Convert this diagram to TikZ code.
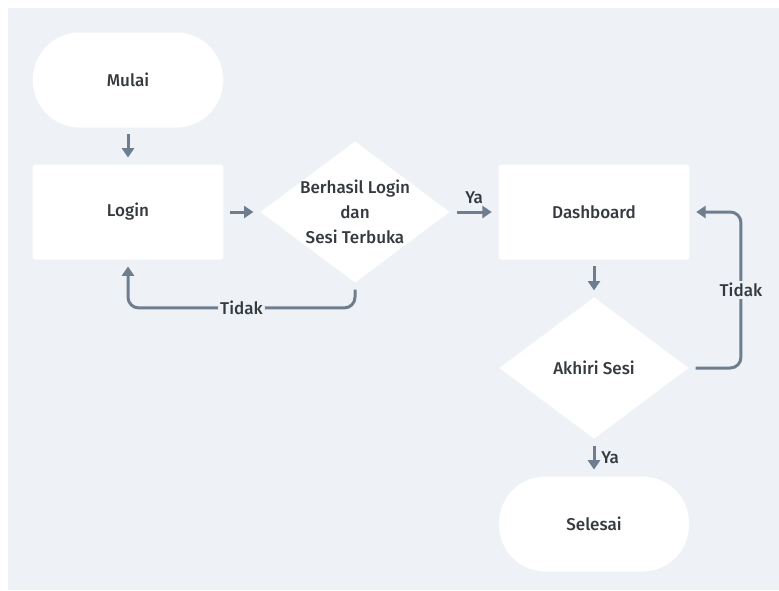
\documentclass[tikz,border=0pt]{standalone}
\usepackage{fontspec}
\setmainfont{Fira Sans Medium}
\usetikzlibrary{arrows.meta,shapes.geometric,positioning}

\definecolor{panelbg}{HTML}{EEF2F6}
\definecolor{linkgray}{HTML}{6E7E8F}
\definecolor{inkdark}{HTML}{353A40}

\begin{document}
\begin{tikzpicture}[x=0.75pt,y=-0.75pt,
    every node/.style={font=\fontsize{12.8}{18.75}\selectfont,text=inkdark},
    terminal/.style={fill=white,rectangle,rounded corners=35pt,
      minimum width=142.5pt,minimum height=71.25pt},
    process/.style={fill=white,rectangle,rounded corners=2pt,
      minimum width=143pt,minimum height=71.25pt},
    decision/.style={fill=white,diamond,inner sep=0pt,
      minimum width=142pt,minimum height=106pt,aspect=1.35},
    link/.style={draw=linkgray,line width=2.25pt,
      -{Triangle[length=7pt,width=9pt]},shorten <=5pt,shorten >=5pt},
    loop/.style={link,rounded corners=8pt},
    tag/.style={fill=panelbg,inner sep=1.5pt}]
    % panel
    \fill[white] (0,0) rectangle (779,590);
    \fill[panelbg] (8,8) rectangle (779,590);

    \node[terminal] (mulai) at (128,80) {Mulai};
    \node[process] (login) at (128,212) {Login};
    \node[decision] (cek) at (355,212)
      [label={[align=center]center:Berhasil Login\\dan\\Sesi Terbuka}] {};
    \node[process] (dash) at (594,212) {Dashboard};
    \node[decision] (akhir) at (594,368)
      [label={center:Akhiri Sesi}] {};
    \node[terminal] (selesai) at (594,524) {Selesai};

    \draw[link] (mulai) -- (login);
    \draw[link] (login) -- (cek);
    \draw[link] (cek) -- node[above=2pt] {Ya} (dash);
    \draw[link] (dash) -- (akhir);
    \draw[link] (akhir) -- node[right=1pt] {Ya} (selesai);
    \draw[loop] (cek.south) -- ++(0,25) -| node[tag,pos=0.25] {Tidak} (login.south);
    \draw[loop] (akhir.east) -- ++(52,0) |- node[tag,pos=0.25] {Tidak} (dash.east);
\end{tikzpicture}
\end{document}
